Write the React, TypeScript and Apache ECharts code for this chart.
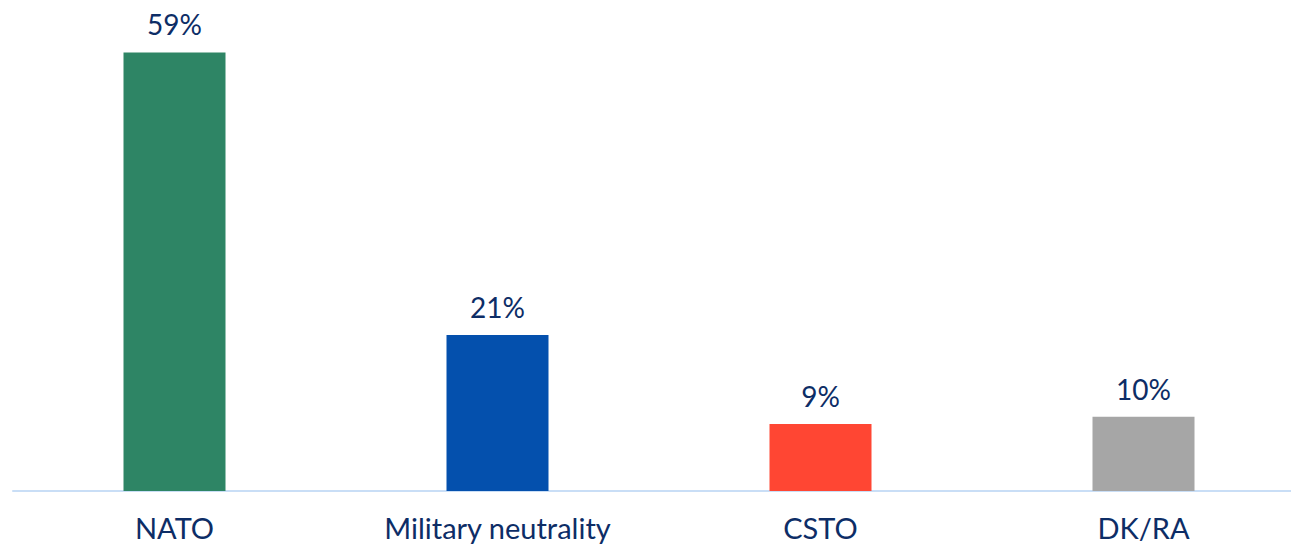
import React, { useEffect, useRef } from "react";
import * as echarts from "echarts";

const categories = ["NATO", "Military neutrality", "CSTO", "DK/RA"];
const values = [59, 21, 9, 10];
const barColors = ["#2e8565", "#0450ad", "#ff4633", "#a6a6a6"];

export default function App() {
  const ref = useRef<HTMLDivElement>(null);
  useEffect(() => {
    const chart = echarts.init(ref.current!, null, { renderer: "svg" });
    chart.setOption({
      animation: false,
      grid: { left: 13, right: 0, top: 45, bottom: 57, containLabel: false },
      xAxis: {
        type: "category",
        data: categories,
        axisLine: { show: true, lineStyle: { color: "#c9def6", width: 2 } },
        axisTick: { show: false },
        axisLabel: {
          color: "#0d2d66",
          fontFamily: "Lato",
          fontSize: 29,
          margin: 22,
        },
      },
      yAxis: {
        type: "value",
        min: 0,
        max: 60,
        show: false,
        splitLine: { show: false },
      },
      series: [
        {
          type: "bar",
          barWidth: 102,
          data: values.map((v, i) => ({ value: v, itemStyle: { color: barColors[i] } })),
          label: {
            show: true,
            position: "top",
            distance: 14,
            formatter: "{c}%",
            color: "#0d2d66",
            fontFamily: "Lato",
            fontSize: 28,
          },
        },
      ],
    });
    return () => chart.dispose();
  }, []);
  return (
    <div
      style={{ position: "fixed", left: 0, top: 0, width: 1291, height: 548, background: "#fff", overflow: "hidden" }}
    >
      <div ref={ref} style={{ width: 1305, height: 548 }} />
    </div>
  );
}
